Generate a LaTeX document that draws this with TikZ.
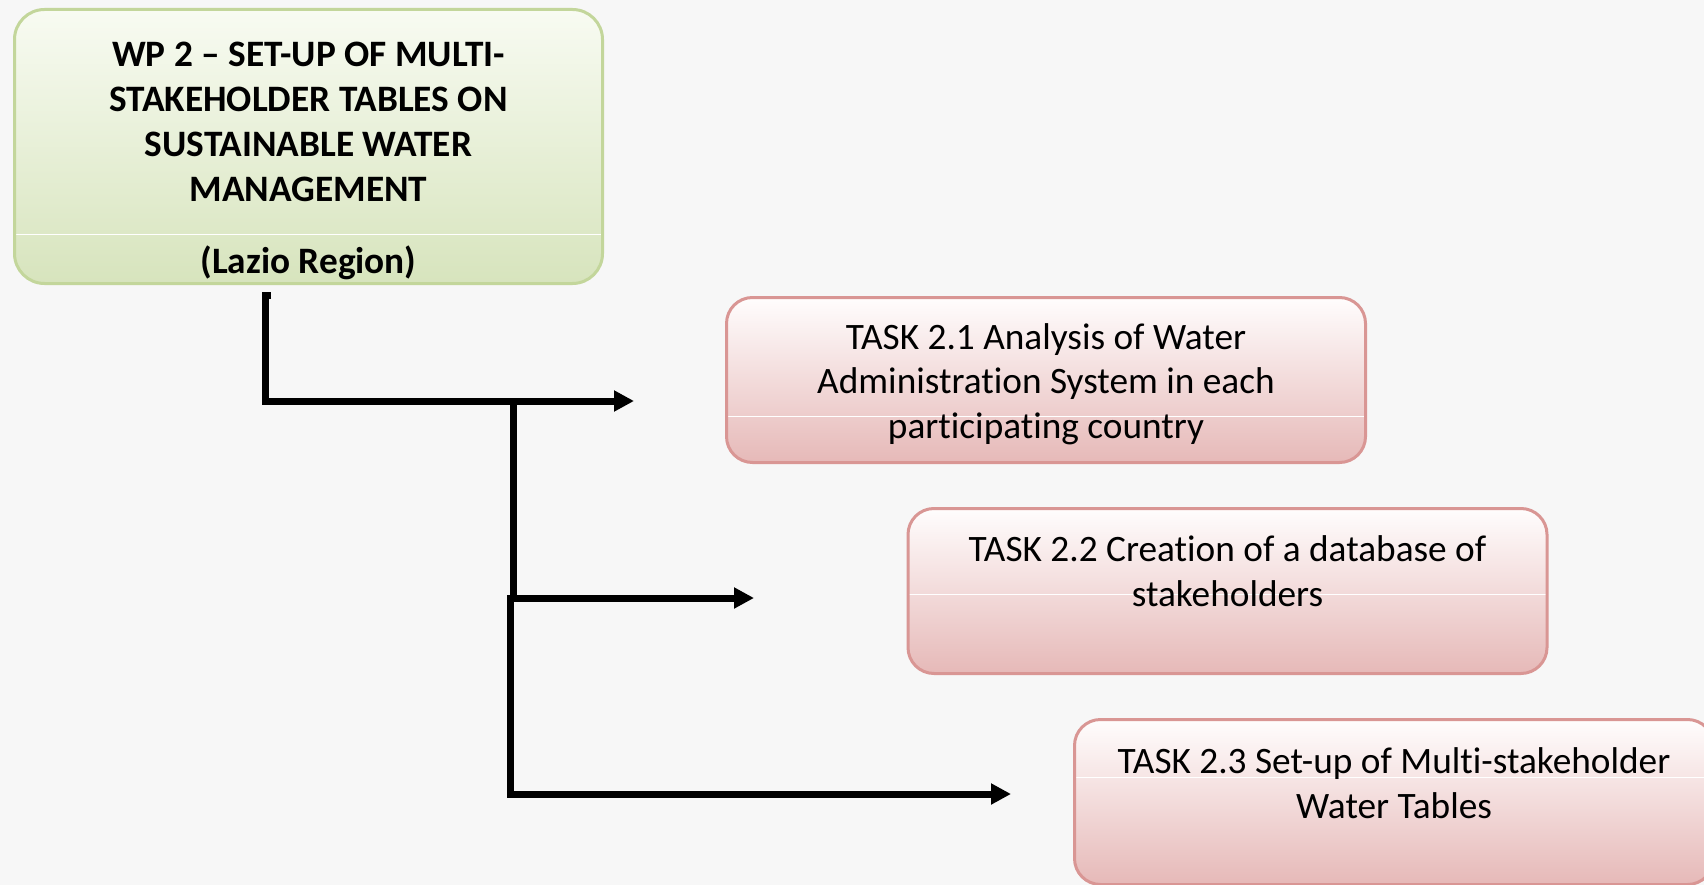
\documentclass[tikz,border=0pt]{standalone}
\usepackage{fontspec}
\setmainfont{Carlito}[Ligatures=CommonOff]
\usetikzlibrary{arrows.meta}

\definecolor{bgpaper}{HTML}{F7F7F7}
\definecolor{wpline}{HTML}{C3D69B}
\definecolor{wpfill}{HTML}{D7E4BD}
\definecolor{wptop}{HTML}{F8FBF2}
\definecolor{taskline}{HTML}{D99694}
\definecolor{taskfill}{HTML}{E6B9B8}
\definecolor{tasktop}{HTML}{FFFDFD}

% width, height, first baseline, text
\newcommand{\boxtext}[4]{\parbox[c][#2pt][t]{#1pt}{\centering\rule{0pt}{#3pt}#4}}

\begin{document}
\begin{tikzpicture}[x=1pt,y=-1pt,
    wpbox/.style={draw=wpline, line width=3pt, rounded corners=30pt,
        top color=wptop, bottom color=wpfill, inner sep=0pt,
        font=\fontsize{37.3}{45}\selectfont\bfseries},
    taskbox/.style={draw=taskline, line width=3pt, rounded corners=26pt,
        top color=tasktop, bottom color=taskfill, inner sep=0pt,
        font=\fontsize{37.3}{44.5}\selectfont},
    gloss/.style={path picture={\draw[white, line width=1pt]
        ([yshift=-#1pt]path picture bounding box.north west) --
        ([yshift=-#1pt]path picture bounding box.north east);}},
    link/.style={line width=7pt, -{Triangle[length=20pt,width=20pt]}}]

        \useasboundingbox (0,0) rectangle (1704,885);
        \clip (0,0) rectangle (1704,885);
        \fill[bgpaper] (0,0) rectangle (1704,885);

        % work package
        \node[wpbox, gloss=225.5] (wp) at (308.5,146.5) {\boxtext{588}{274}{57}{WP 2 -- SET-UP OF MULTI-\\STAKEHOLDER TABLES ON\\SUSTAINABLE WATER\\MANAGEMENT\\[27pt](Lazio Region)}};

        % tasks
        \node[taskbox, gloss=118.5] (t1) at (1046,380) {\boxtext{639}{165}{51.5}{TASK 2.1 Analysis of Water\\Administration System in each\\participating country}};
        \node[taskbox, gloss=85.5] (t2) at (1227.5,591) {\boxtext{639}{165}{53}{TASK 2.2 Creation of a database of\\stakeholders}};
        \node[taskbox, gloss=57.5] (t3) at (1394,802) {\boxtext{639}{165}{54}{TASK 2.3 Set-up of Multi-stakeholder\\Water Tables}};

        % arrows
        \coordinate (wpout) at (271,295.5);
        \coordinate (fork1) at (513,401);
        \coordinate (fork2) at (510,595);
        \coordinate (tip1) at (634,401);
        \coordinate (tip2) at (754,598);
        \coordinate (tip3) at (1011,794);
        \draw[link] (wpout) -- ++(-5.5,0) |- (tip1);
        \draw[link] (fork1) |- (tip2);
        \draw[link] (fork2) |- (tip3);
    \end{tikzpicture}
\end{document}
